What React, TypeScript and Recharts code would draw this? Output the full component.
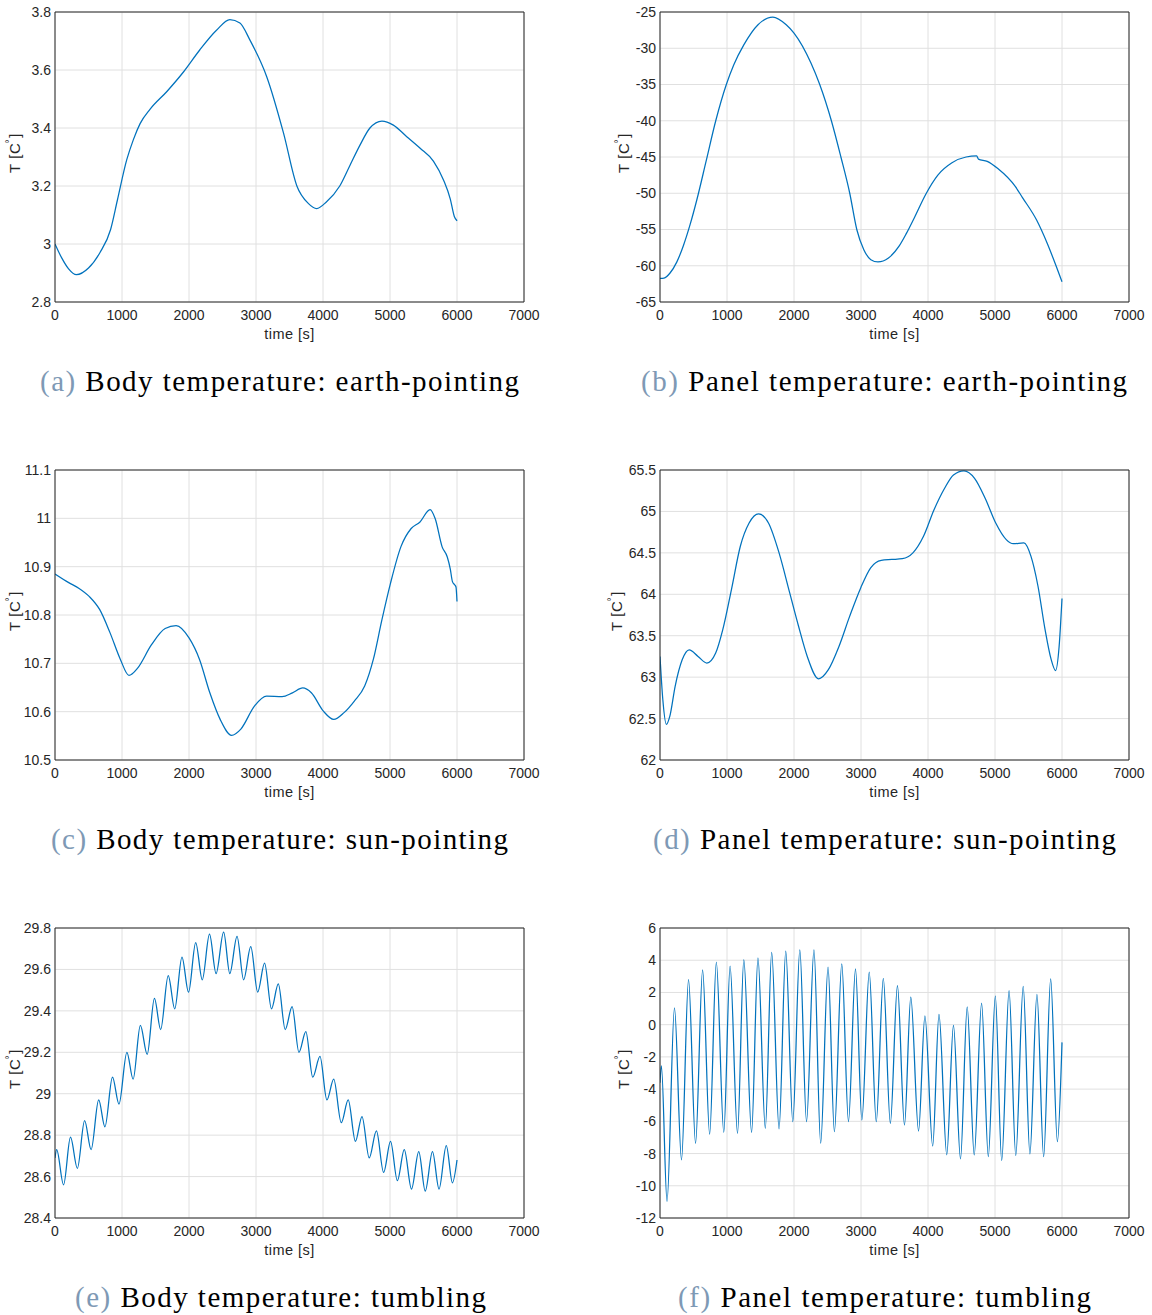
import { LineChart, Line, XAxis, YAxis, CartesianGrid } from 'recharts';

// time axis shared by every panel
const timeTicks = [0, 1000, 2000, 3000, 4000, 5000, 6000, 7000];

// (a) body, earth-pointing
const bodyEarthTime = [0, 100, 200, 320, 500, 670, 830, 930, 1070, 1170, 1270, 1420, 1670, 1920, 2160, 2410, 2610, 2760, 2910, 3160, 3410, 3610, 3780, 3906, 4050, 4250, 4400, 4550, 4700, 4880, 5050, 5250, 5450, 5650, 5800, 5900, 5960, 6000];
const bodyEarthTemp = [3.0, 2.952, 2.915, 2.894, 2.917, 2.97, 3.05, 3.15, 3.29, 3.36, 3.415, 3.465, 3.526, 3.594, 3.669, 3.737, 3.774, 3.762, 3.703, 3.577, 3.383, 3.2, 3.14, 3.122, 3.145, 3.2, 3.27, 3.34, 3.4, 3.424, 3.41, 3.37, 3.33, 3.285, 3.22, 3.155, 3.095, 3.08];
const bodyEarthTicks = [2.8, 3, 3.2, 3.4, 3.6, 3.8];

// (b) panel, earth-pointing
const panelEarthTime = [0, 60, 150, 250, 350, 450, 550, 690, 832, 990, 1100, 1253, 1463, 1684, 1884, 2000, 2253, 2384, 2558, 2700, 2832, 2937, 3042, 3147, 3253, 3410, 3568, 3674, 3800, 3963, 4147, 4358, 4568, 4726, 4753, 4884, 5042, 5305, 5410, 5621, 5779, 5911, 6000];
const panelEarthTemp = [-61.75, -61.7, -61.0, -59.5, -57.2, -54.3, -50.9, -45.5, -40, -35, -32.3, -29.5, -26.75, -25.69, -26.75, -27.9, -32.03, -35, -40, -45, -50, -55, -57.78, -59.16, -59.48, -58.93, -57.3, -55.6, -53.3, -50.2, -47.5, -45.8, -45.0, -44.86, -45.3, -45.6, -46.6, -49.1, -50.6, -53.7, -56.9, -60, -62.2];
const panelEarthTicks = [-65, -60, -55, -50, -45, -40, -35, -30, -25];

// (c) body, sun-pointing
const bodySunTime = [0, 205, 360, 514, 668, 822, 976, 1104, 1233, 1438, 1644, 1808, 2003, 2157, 2311, 2465, 2635, 2774, 2979, 3159, 3390, 3544, 3698, 3826, 4006, 4160, 4314, 4468, 4622, 4751, 4879, 5008, 5162, 5316, 5444, 5598, 5675, 5778, 5855, 5900, 5932, 5968, 5985, 6000];
const bodySunTemp = [10.885, 10.867, 10.855, 10.838, 10.811, 10.763, 10.708, 10.675, 10.69, 10.738, 10.772, 10.778, 10.752, 10.708, 10.639, 10.584, 10.551, 10.564, 10.612, 10.632, 10.631, 10.639, 10.649, 10.639, 10.601, 10.584, 10.598, 10.622, 10.653, 10.708, 10.79, 10.866, 10.941, 10.979, 10.992, 11.018, 10.999, 10.941, 10.92, 10.895, 10.869, 10.862, 10.858, 10.828];
const bodySunTicks = [10.5, 10.6, 10.7, 10.8, 10.9, 11, 11.1];

// (d) panel, sun-pointing
const panelSunTime = [0, 42, 95, 147, 226, 331, 436, 568, 699, 831, 936, 1067, 1199, 1330, 1472, 1619, 1777, 1935, 2066, 2198, 2366, 2513, 2671, 2829, 2997, 3144, 3302, 3460, 3617, 3775, 3933, 4090, 4248, 4380, 4537, 4695, 4853, 5011, 5168, 5273, 5431, 5536, 5641, 5746, 5836, 5904, 5957, 6000];
const panelSunTemp = [63.25, 62.73, 62.43, 62.53, 62.89, 63.21, 63.33, 63.25, 63.17, 63.29, 63.57, 64.06, 64.58, 64.86, 64.97, 64.86, 64.5, 64.02, 63.62, 63.25, 62.98, 63.09, 63.37, 63.73, 64.08, 64.32, 64.41, 64.42, 64.43, 64.5, 64.7, 65.02, 65.28, 65.44, 65.49, 65.4, 65.16, 64.86, 64.66, 64.61, 64.62, 64.46, 64.1, 63.58, 63.22, 63.08, 63.37, 63.95];
const panelSunTicks = [62, 62.5, 63, 63.5, 64, 64.5, 65, 65.5];

// (e) body, tumbling (peaks and troughs)
const bodyTumbleTime = [0, 25, 128, 231, 334, 442, 539, 652, 745, 858, 955, 1073, 1166, 1274, 1376, 1484, 1577, 1690, 1787, 1895, 1993, 2100, 2198, 2306, 2404, 2517, 2609, 2717, 2815, 2922, 3025, 3128, 3231, 3333, 3436, 3539, 3641, 3744, 3847, 3955, 4058, 4160, 4273, 4376, 4484, 4582, 4690, 4797, 4905, 5008, 5110, 5213, 5321, 5429, 5526, 5634, 5732, 5840, 5932, 6000];
const bodyTumbleTemp = [28.69, 28.73, 28.56, 28.79, 28.64, 28.87, 28.73, 28.97, 28.84, 29.08, 28.95, 29.2, 29.07, 29.33, 29.19, 29.46, 29.31, 29.57, 29.41, 29.66, 29.49, 29.73, 29.55, 29.77, 29.58, 29.78, 29.58, 29.76, 29.55, 29.71, 29.49, 29.63, 29.41, 29.53, 29.31, 29.42, 29.2, 29.3, 29.08, 29.18, 28.97, 29.07, 28.86, 28.97, 28.77, 28.89, 28.69, 28.82, 28.62, 28.77, 28.58, 28.73, 28.54, 28.72, 28.53, 28.72, 28.54, 28.75, 28.57, 28.68];
const bodyTumbleTicks = [28.4, 28.6, 28.8, 29, 29.2, 29.4, 29.6, 29.8];

// (f) panel, tumbling (peaks and troughs)
const panelTumbleTime = [0, 21, 105, 216, 321, 426, 531, 636, 741, 841, 952, 1046, 1157, 1251, 1367, 1462, 1572, 1667, 1777, 1877, 1982, 2087, 2187, 2298, 2398, 2508, 2603, 2713, 2813, 2918, 3013, 3123, 3228, 3333, 3438, 3544, 3649, 3743, 3859, 3954, 4070, 4164, 4280, 4380, 4485, 4585, 4690, 4800, 4900, 5005, 5100, 5210, 5310, 5421, 5521, 5626, 5726, 5831, 5931, 6000];
const panelTumbleTemp = [-3.6, -2.56, -10.97, 1.05, -8.39, 2.8, -7.36, 3.4, -6.8, 3.88, -6.68, 3.63, -6.74, 4.04, -6.68, 4.14, -6.43, 4.49, -6.47, 4.56, -6.02, 4.64, -6.02, 4.64, -7.36, 3.57, -6.64, 3.77, -6.02, 3.46, -5.92, 3.26, -6.02, 2.87, -6.12, 2.43, -6.23, 1.71, -6.6, 0.54, -7.53, 0.64, -8.08, -0.04, -8.33, 1.1, -8.08, 1.34, -8.19, 1.77, -8.43, 2.12, -8.12, 2.37, -8.02, 1.88, -8.19, 2.85, -7.26, -1.1];
const panelTumbleTicks = [-12, -10, -8, -6, -4, -2, 0, 2, 4, 6];

const captionTags = ['(a)', '(b)', '(c)', '(d)', '(e)', '(f)'];
const captionTexts = [
  'Body temperature: earth-pointing',
  'Panel temperature: earth-pointing',
  'Body temperature: sun-pointing',
  'Panel temperature: sun-pointing',
  'Body temperature: tumbling',
  'Panel temperature: tumbling',
];

const BLUE = '#0072BD';
const AXIS = '#262626';
const GRID = '#e0e0e0';
const SANS = '"Liberation Sans", Arial, Helvetica, sans-serif';
const SERIF = '"Liberation Serif", "Times New Roman", serif';

type PanelProps = {
  left: number;
  top: number;
  time: number[];
  temp: number[];
  yTicks: number[];
};

const fmt = (v: number) => String(Number(v.toFixed(2)));

function Panel({ left, top, time, temp, yTicks }: PanelProps) {
  const rows = time.map((t, i) => ({ t, v: temp[i] }));
  const yDomain = [yTicks[0], yTicks[yTicks.length - 1]];
  const tickStyle = { fill: AXIS, fontSize: 14, fontFamily: SANS };
  return (
    <div style={{ position: 'absolute', left, top }}>
      <LineChart
        width={545}
        height={344}
        data={rows}
        margin={{ top: 12, right: 21, bottom: 2, left: 0 }}
      >
        <CartesianGrid stroke={GRID} strokeWidth={1} />
        <XAxis
          dataKey="t"
          type="number"
          domain={[0, 7000]}
          ticks={timeTicks}
          interval={0}
          allowDataOverflow
          height={40}
          tickSize={0}
          tickMargin={8}
          tickLine={false}
          axisLine={{ stroke: AXIS }}
          tick={tickStyle}
          label={{ value: 'time [s]', position: 'insideBottom', offset: 3, fill: AXIS, fontSize: 14.5, fontFamily: SANS, letterSpacing: 0.5 }}
        />
        <XAxis
          xAxisId="top"
          orientation="top"
          mirror
          type="number"
          domain={[0, 7000]}
          ticks={timeTicks}
          interval={0}
          allowDataOverflow
          tick={false}
          tickSize={5}
          tickLine={{ stroke: AXIS }}
          axisLine={{ stroke: AXIS }}
        />
        <XAxis
          xAxisId="bottomInner"
          orientation="bottom"
          mirror
          type="number"
          domain={[0, 7000]}
          ticks={timeTicks}
          interval={0}
          allowDataOverflow
          tick={false}
          tickSize={5}
          tickLine={{ stroke: AXIS }}
          axisLine={false}
        />
        <YAxis
          type="number"
          domain={yDomain}
          ticks={yTicks}
          interval={0}
          allowDataOverflow
          width={55}
          tickSize={0}
          tickMargin={4}
          tickLine={false}
          axisLine={{ stroke: AXIS }}
          tick={tickStyle}
          tickFormatter={fmt}
        />
        <YAxis
          yAxisId="right"
          orientation="right"
          mirror
          type="number"
          domain={yDomain}
          ticks={yTicks}
          interval={0}
          allowDataOverflow
          tick={false}
          tickSize={5}
          tickLine={{ stroke: AXIS }}
          axisLine={{ stroke: AXIS }}
        />
        <YAxis
          yAxisId="leftInner"
          orientation="left"
          mirror
          type="number"
          domain={yDomain}
          ticks={yTicks}
          interval={0}
          allowDataOverflow
          tick={false}
          tickSize={5}
          tickLine={{ stroke: AXIS }}
          axisLine={false}
        />
        <Line
          dataKey="v"
          type="monotone"
          stroke={BLUE}
          strokeWidth={1.25}
          dot={false}
          activeDot={false}
          isAnimationActive={false}
        />
      </LineChart>
    </div>
  );
}

const panels = [
  { time: bodyEarthTime, temp: bodyEarthTemp, yTicks: bodyEarthTicks },
  { time: panelEarthTime, temp: panelEarthTemp, yTicks: panelEarthTicks },
  { time: bodySunTime, temp: bodySunTemp, yTicks: bodySunTicks },
  { time: panelSunTime, temp: panelSunTemp, yTicks: panelSunTicks },
  { time: bodyTumbleTime, temp: bodyTumbleTemp, yTicks: bodyTumbleTicks },
  { time: panelTumbleTime, temp: panelTumbleTemp, yTicks: panelTumbleTicks },
];

// caption placement and y-label x position per panel
const captionBox = [
  { x: 40, w: 479 },
  { x: 641, w: 486 },
  { x: 51, w: 457 },
  { x: 653, w: 463 },
  { x: 75, w: 411 },
  { x: 678, w: 413 },
];
const yLabelX = [20, 629, 20, 622, 20, 629];

export default function App() {
  return (
    <div style={{ position: 'absolute', left: 0, top: 0, width: 1152, height: 1315, background: '#fff' }}>
      {panels.map((p, i) => (
        <Panel
          key={i}
          left={(i % 2) * 605}
          top={Math.floor(i / 2) * 458}
          time={p.time}
          temp={p.temp}
          yTicks={p.yTicks}
        />
      ))}
      <svg
        width={1152}
        height={1315}
        style={{ position: 'absolute', left: 0, top: 0, pointerEvents: 'none' }}
      >
        {panels.map((_, i) => {
          const row = Math.floor(i / 2);
          const x = yLabelX[i];
          const y = 153 + row * 458;
          return (
            <text
              key={`yl${i}`}
              x={x}
              y={y}
              transform={`rotate(-90 ${x} ${y})`}
              textAnchor="middle"
              fontFamily={SANS}
              fontSize={15}
              letterSpacing={0.6}
              fill={AXIS}
            >
              T [C
              <tspan dy={-7} dx={-1} fontSize={10}>°</tspan>
              <tspan dy={7} dx={1}>]</tspan>
            </text>
          );
        })}
        {captionTags.map((tag, i) => {
          const row = Math.floor(i / 2);
          const box = captionBox[i];
          return (
            <text
              key={`cap${i}`}
              x={box.x}
              y={391 + row * 458}
              textLength={box.w}
              lengthAdjust="spacing"
              fontFamily={SERIF}
              fontSize={29}
              fill="#000"
            >
              <tspan fill="#7e99b5">{tag}</tspan>
              {' ' + captionTexts[i]}
            </text>
          );
        })}
      </svg>
    </div>
  );
}
